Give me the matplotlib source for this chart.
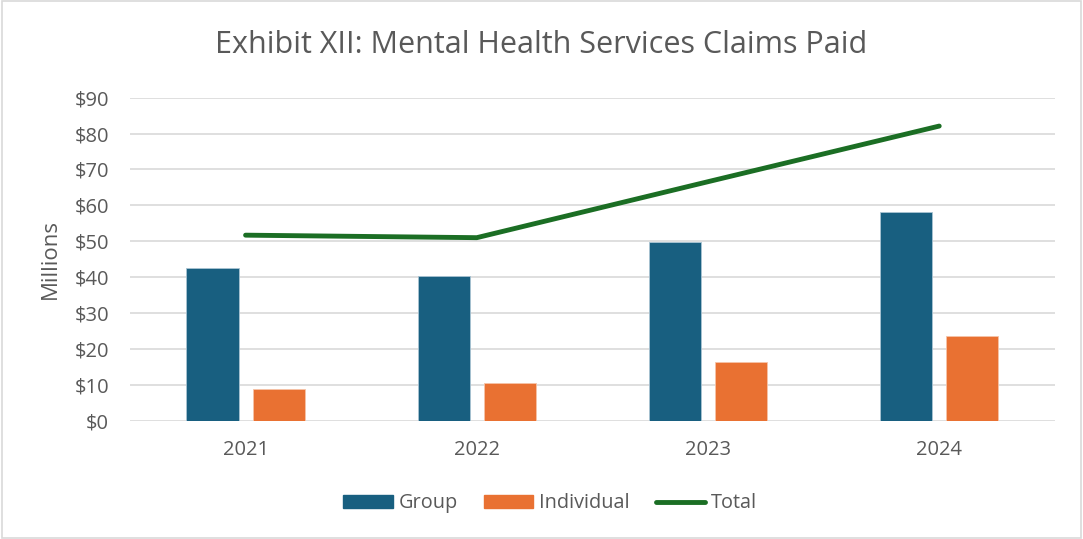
import matplotlib
matplotlib.use("Agg")
import matplotlib.pyplot as plt
import numpy as np
from matplotlib.patches import Rectangle
from matplotlib.lines import Line2D
from matplotlib.ticker import FuncFormatter, MultipleLocator

years = ["2021", "2022", "2023", "2024"]
group = [42.5, 40.3, 49.7, 58.2]
individual = [8.9, 10.4, 16.4, 23.6]
total = [51.7, 51.0, 66.6, 82.1]

plt.rcParams['font.family'] = ['Open Sans', 'DejaVu Sans']
text_color = '#595959'

fig = plt.figure(figsize=(10.83, 5.39), dpi=100)
ax = fig.add_axes([0.12, 0.2195, 0.854, 0.5992])

x = np.arange(len(years))
w = 0.225
off = 0.143
ax.bar(x - off, group, w, color='#185F80', edgecolor='#a9c4d3', linewidth=0.6, zorder=3, label='Group')
ax.bar(x + off, individual, w, color='#E97132', edgecolor='#f6c4a8', linewidth=0.6, zorder=3, label='Individual')
ax.plot(x, total, color='#1B6E24', linewidth=3.5, solid_capstyle='round', zorder=4, label='Total')

ax.set_xlim(-0.5, len(years) - 0.5)
ax.set_ylim(0, 90)
ax.yaxis.set_major_locator(MultipleLocator(10))
ax.yaxis.set_major_formatter(FuncFormatter(lambda v, p: f"${v:.0f}"))
ax.set_xticks(x)
ax.set_xticklabels(years)
ax.grid(axis='y', color='#D9D9D9', linewidth=1.2, zorder=0)
for s in ax.spines.values():
    s.set_visible(False)
ax.tick_params(axis='both', length=0, labelsize=14.5, colors=text_color)
ax.tick_params(axis='x', pad=14)
ax.tick_params(axis='y', pad=15)
ax.set_ylabel("Millions", fontsize=16, color=text_color, labelpad=10)

fig.text(0.5, 0.916, "Exhibit XII: Mental Health Services Claims Paid", ha='center', va='center',
         fontsize=22, color=text_color)

handles = [Rectangle((0, 0), 1, 1, color='#185F80'),
           Rectangle((0, 0), 1, 1, color='#E97132'),
           Line2D([0], [0], color='#1B6E24', linewidth=3.5, solid_capstyle='round')]
fig.legend(handles, ['Group', 'Individual', 'Total'], loc='center', bbox_to_anchor=(0.508, 0.066),
           ncol=3, frameon=False, fontsize=14.3, labelcolor=text_color, handlelength=2.5,
           handleheight=0.6, handletextpad=0.3, columnspacing=1.3)

border = Rectangle((0.002, 0.002), 0.996, 0.996, transform=fig.transFigure, fill=False,
                   edgecolor='#D9D9D9', linewidth=1.2)
fig.patches.append(border)

fig.savefig("out.png", dpi=100)
